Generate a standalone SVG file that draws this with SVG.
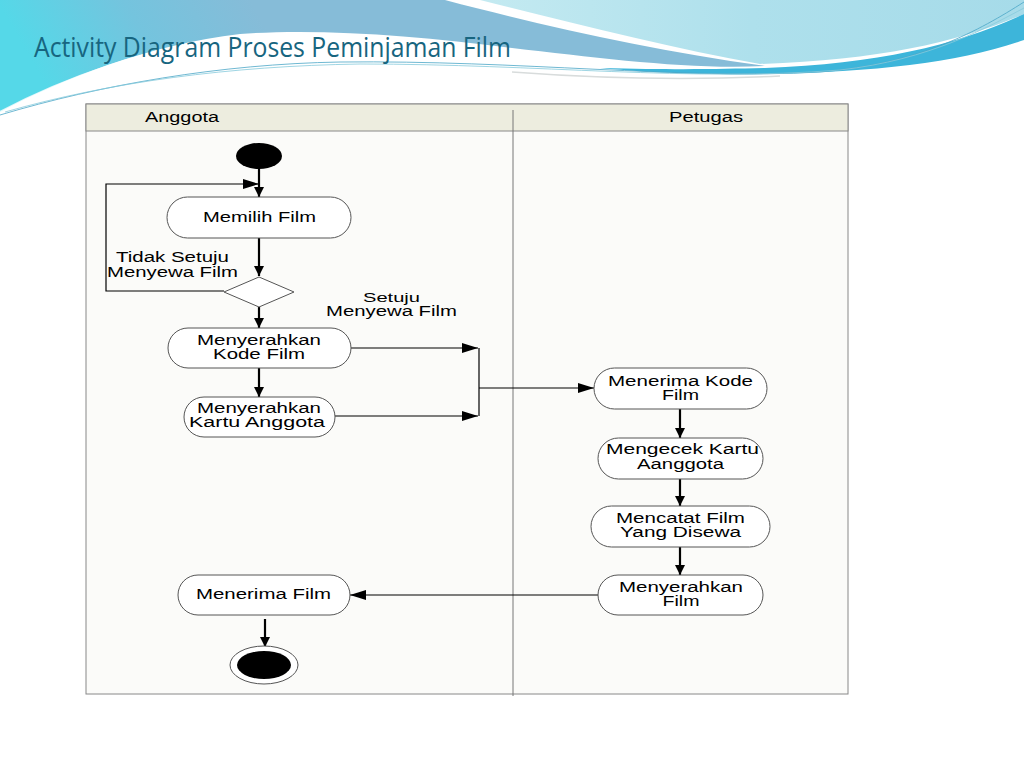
<svg xmlns="http://www.w3.org/2000/svg" width="1024" height="768" viewBox="0 0 1024 768">
<defs>
<linearGradient id="gBlue" gradientUnits="userSpaceOnUse" x1="250" y1="0" x2="60" y2="110">
<stop offset="0" stop-color="#86bcd8"/>
<stop offset="0.5" stop-color="#74c4de"/>
<stop offset="1" stop-color="#55d8e8"/>
</linearGradient>
<linearGradient id="gLight" x1="0" y1="0" x2="1" y2="0">
<stop offset="0" stop-color="#c4eaf1"/>
<stop offset="0.5" stop-color="#aee0ec"/>
<stop offset="1" stop-color="#a6dbe9"/>
</linearGradient>
<marker id="arr" viewBox="0 0 10 10" refX="10" refY="5" markerWidth="10" markerHeight="10" markerUnits="userSpaceOnUse" orient="auto">
<path d="M0,0 L10,5 L0,10 Z" fill="#000"/>
</marker>
<marker id="arrL" viewBox="0 0 16 10" refX="16" refY="5" markerWidth="16" markerHeight="10" markerUnits="userSpaceOnUse" orient="auto">
<path d="M0,0 L16,5 L0,10 Z" fill="#000"/>
</marker>
</defs>
<style>
.node rect { fill:#fff; stroke:#555; stroke-width:1; }
.lbl { font-family:"Liberation Sans", Arial, sans-serif; font-size:14px; fill:#000; text-anchor:middle; }
.sm { font-size:13px; }
.conn { stroke:#000; fill:none; }
.thick { stroke-width:2.2; }
.thin { stroke-width:1.2; }
</style>
<rect width="1024" height="768" fill="#fff"/>
<!-- background wave -->
<path d="M480,0 H1024 V14 C960,42 880,60 760,64 C670,48 570,22 480,0 Z" fill="url(#gLight)"/>
<path d="M0,0 H445 C540,25 650,50 765,66 C690,70 600,58 512,48 C420,36 320,28 240,34 C150,44 60,80 0,112 Z" fill="url(#gBlue)"/>
<path d="M765,68 C880,64 960,44 1024,14 V40 C960,62 880,72 765,74 C700,75 640,72 600,68 C680,70 720,69 765,68 Z" fill="#3db5da"/>
<path d="M0,112 C60,80 150,46 240,36" fill="none" stroke="#fff" stroke-width="2" opacity="0.8"/>
<path d="M0,115 C100,85 220,64 340,62 C520,60 680,80 820,72 C920,64 980,30 1024,2" fill="none" stroke="#4aa6c6" stroke-width="0.8"/>
<path d="M5,112 C110,82 230,66 360,64 C540,64 690,82 840,70 C930,60 990,26 1024,8" fill="none" stroke="#86cadc" stroke-width="0.8"/>
<path d="M512,72 C620,80 700,80 780,76" fill="none" stroke="#d8dcdc" stroke-width="1.5"/>
<text x="34" y="57" font-family="'Open Sans', 'Liberation Sans', sans-serif" font-size="27" fill="#17657f" textLength="477" lengthAdjust="spacingAndGlyphs">Activity Diagram Proses Peminjaman Film</text>

<!-- swimlane frame -->
<g id="swimlanes">
<rect x="86" y="104" width="762" height="590" fill="#fbfbf9" stroke="#888" stroke-width="1"/>
<rect x="86" y="104" width="762" height="27" fill="#ededdf" stroke="#888" stroke-width="1"/>
<line x1="513" y1="110" x2="513" y2="696" stroke="#777" stroke-width="1"/>
<text x="182" y="122" class="lbl" textLength="74" lengthAdjust="spacingAndGlyphs">Anggota</text>
<text x="706" y="122" class="lbl" textLength="74" lengthAdjust="spacingAndGlyphs">Petugas</text>
</g>

<g id="connectors">
<line class="conn thick" x1="259" y1="169" x2="259" y2="197" marker-end="url(#arr)"/>
<polyline class="conn thin" points="224,291 106,291 106,184 259,184" marker-end="url(#arrL)"/>
<line class="conn thick" x1="259" y1="238" x2="259" y2="276" marker-end="url(#arr)"/>
<line class="conn thick" x1="259" y1="307" x2="259" y2="328" marker-end="url(#arr)"/>
<line class="conn thick" x1="259" y1="368" x2="259" y2="397" marker-end="url(#arr)"/>
<line class="conn thin" x1="351" y1="348" x2="478" y2="348" marker-end="url(#arrL)"/>
<line class="conn thin" x1="335" y1="416" x2="478" y2="416" marker-end="url(#arrL)"/>
<line class="conn thin" x1="479" y1="348" x2="479" y2="416"/>
<line class="conn thin" x1="479" y1="388" x2="594" y2="388" marker-end="url(#arrL)"/>
<line class="conn thick" x1="680" y1="409" x2="680" y2="438" marker-end="url(#arr)"/>
<line class="conn thick" x1="680" y1="479" x2="680" y2="506" marker-end="url(#arr)"/>
<line class="conn thick" x1="680" y1="547" x2="680" y2="575" marker-end="url(#arr)"/>
<line class="conn thin" x1="598" y1="595" x2="350" y2="595" marker-end="url(#arrL)"/>
<line class="conn thick" x1="265" y1="619" x2="265" y2="647" marker-end="url(#arr)"/>
<text x="172.5" y="262" class="lbl" textLength="113" lengthAdjust="spacingAndGlyphs">Tidak Setuju</text>
<text x="172.5" y="277" class="lbl" textLength="131" lengthAdjust="spacingAndGlyphs">Menyewa Film</text>
<text x="391.5" y="301.5" class="lbl sm" textLength="57" lengthAdjust="spacingAndGlyphs">Setuju</text>
<text x="391.5" y="316" class="lbl" textLength="131" lengthAdjust="spacingAndGlyphs">Menyewa Film</text>
</g>

<g id="start"><ellipse cx="259" cy="156" rx="23" ry="13" fill="#000"/></g>
<g id="memilih" class="node"><rect x="167" y="197" width="184" height="41" rx="20.5"/><text x="259.5" y="222" class="lbl" textLength="113" lengthAdjust="spacingAndGlyphs">Memilih Film</text></g>
<g id="decision"><polygon points="259,277 294,292 259,307 224,292" fill="#fff" stroke="#555" stroke-width="1"/></g>
<g id="kode" class="node"><rect x="168" y="328" width="183" height="40" rx="20"/><text x="259" y="345" class="lbl" textLength="124" lengthAdjust="spacingAndGlyphs">Menyerahkan</text><text x="259" y="359" class="lbl" textLength="92" lengthAdjust="spacingAndGlyphs">Kode Film</text></g>
<g id="kartu" class="node"><rect x="184" y="397" width="151" height="40" rx="20"/><text x="259" y="413" class="lbl" textLength="124" lengthAdjust="spacingAndGlyphs">Menyerahkan</text><text x="257" y="427" class="lbl" textLength="136" lengthAdjust="spacingAndGlyphs">Kartu Anggota</text></g>
<g id="terimaKode" class="node"><rect x="594" y="368" width="173" height="41" rx="20.5"/><text x="680.5" y="386" class="lbl" textLength="145" lengthAdjust="spacingAndGlyphs">Menerima Kode</text><text x="680.5" y="400" class="lbl" textLength="37" lengthAdjust="spacingAndGlyphs">Film</text></g>
<g id="cekKartu" class="node"><rect x="598" y="438" width="165" height="41" rx="20.5"/><text x="682.5" y="454" class="lbl" textLength="153" lengthAdjust="spacingAndGlyphs">Mengecek Kartu</text><text x="680.5" y="469" class="lbl" textLength="87" lengthAdjust="spacingAndGlyphs">Aanggota</text></g>
<g id="catat" class="node"><rect x="591" y="506" width="179" height="41" rx="20.5"/><text x="680.5" y="523" class="lbl" textLength="129" lengthAdjust="spacingAndGlyphs">Mencatat Film</text><text x="680.5" y="537" class="lbl" textLength="121" lengthAdjust="spacingAndGlyphs">Yang Disewa</text></g>
<g id="serahFilm" class="node"><rect x="598" y="575" width="165" height="40" rx="20"/><text x="681" y="591.5" class="lbl" textLength="124" lengthAdjust="spacingAndGlyphs">Menyerahkan</text><text x="681" y="606" class="lbl" textLength="37" lengthAdjust="spacingAndGlyphs">Film</text></g>
<g id="terimaFilm" class="node"><rect x="178" y="575" width="172" height="40" rx="20"/><text x="263.5" y="598.5" class="lbl" textLength="135" lengthAdjust="spacingAndGlyphs">Menerima Film</text></g>
<g id="end"><ellipse cx="264" cy="665" rx="34" ry="19" fill="#fff" stroke="#555" stroke-width="1"/><ellipse cx="264" cy="665" rx="27" ry="14" fill="#000"/></g>
</svg>
